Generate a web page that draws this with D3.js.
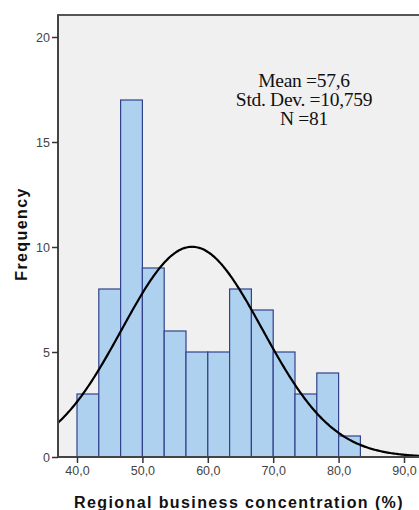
<!DOCTYPE html>
<html>
<head>
<meta charset="utf-8">
<script src="https://cdn.jsdelivr.net/npm/d3@7"></script>
<style>
  body { margin: 0; background: #fff; }
  svg { display: block; }
</style>
</head>
<body>
<svg id="chart"></svg>
<script>
// bins of 3.33 units starting at 40
const binStart = 40;
const binWidth = 10 / 3;
const counts = [3, 8, 17, 9, 6, 5, 5, 8, 7, 5, 3, 4, 1];
const xTicks = [40, 50, 60, 70, 80, 90];
const yTicks = [0, 5, 10, 15, 20];
const stats = { mean: 57.6, sd: 10.759, n: 81 };
const statLines = ["Mean =57,6", "Std. Dev. =10,759", "N =81"];

const width = 419, height = 510;
const plot = { left: 58, top: 15, right: 430, bottom: 457 };

const svg = d3.select("#chart")
    .attr("width", width)
    .attr("height", height);

const x = d3.scaleLinear().domain([40, 90]).range([77, 404]);
const y = d3.scaleLinear().domain([0, 20]).range([457, 37]);

// plot background
svg.append("rect")
    .attr("x", plot.left)
    .attr("y", plot.top)
    .attr("width", plot.right - plot.left)
    .attr("height", plot.bottom - plot.top)
    .attr("fill", "#f0f0f0")
    .attr("stroke", "#555")
    .attr("stroke-width", 2);

const bins = counts.map((c, i) => ({
    x0: binStart + i * binWidth,
    x1: binStart + (i + 1) * binWidth,
    count: c
}));

svg.append("g")
  .selectAll("rect")
  .data(bins)
  .join("rect")
    .attr("x", d => x(d.x0))
    .attr("y", d => y(d.count))
    .attr("width", d => x(d.x1) - x(d.x0))
    .attr("height", d => y(0) - y(d.count))
    .attr("fill", "#aed1ef")
    .attr("stroke", "#33418a")
    .attr("stroke-width", 1.2);

// normal curve scaled to counts
const scale = stats.n * binWidth / (stats.sd * Math.sqrt(2 * Math.PI));
const xs = d3.range(x.invert(plot.left), x.invert(plot.right), 0.2);
const line = d3.line()
    .x(d => x(d))
    .y(d => y(scale * Math.exp(-0.5 * Math.pow((d - stats.mean) / stats.sd, 2))))
    .curve(d3.curveBasis);

svg.append("path")
    .datum(xs)
    .attr("d", line)
    .attr("fill", "none")
    .attr("stroke", "#000")
    .attr("stroke-width", 2.2);

// axes lines drawn on top
svg.append("line")
    .attr("x1", plot.left).attr("x2", plot.right)
    .attr("y1", plot.bottom).attr("y2", plot.bottom)
    .attr("stroke", "#444").attr("stroke-width", 2);
svg.append("line")
    .attr("x1", plot.left).attr("x2", plot.left)
    .attr("y1", plot.top).attr("y2", plot.bottom)
    .attr("stroke", "#444").attr("stroke-width", 2);

const xAxis = svg.append("g")
    .attr("transform", `translate(0,${plot.bottom})`)
    .call(d3.axisBottom(x).tickValues(xTicks).tickSize(6).tickPadding(3)
        .tickFormat(d => d3.format(".1f")(d).replace(".", ",")));
xAxis.select(".domain").remove();

const yAxis = svg.append("g")
    .attr("transform", `translate(${plot.left},0)`)
    .call(d3.axisLeft(y).tickValues(yTicks).tickSize(6).tickPadding(2));
yAxis.select(".domain").remove();

svg.selectAll(".tick line").attr("stroke", "#333").attr("stroke-width", 1.5);
svg.selectAll(".tick text")
    .attr("fill", "#444")
    .style("font-family", "Arial, 'Liberation Sans', sans-serif")
    .style("font-size", "12.5px");

svg.append("text")
    .attr("transform", "translate(27,234) rotate(-90)")
    .attr("text-anchor", "middle")
    .style("font-family", "Arial, 'Liberation Sans', sans-serif")
    .style("font-size", "16px")
    .style("font-weight", "bold")
    .style("letter-spacing", "1.4px")
    .attr("fill", "#111")
    .text("Frequency");

svg.append("text")
    .attr("x", 239)
    .attr("y", 508)
    .attr("text-anchor", "middle")
    .style("font-family", "Arial, 'Liberation Sans', sans-serif")
    .style("font-size", "16px")
    .style("font-weight", "bold")
    .style("letter-spacing", "1.4px")
    .attr("fill", "#111")
    .text("Regional business concentration (%)");

svg.append("g")
  .selectAll("text")
  .data(statLines)
  .join("text")
    .attr("x", 304)
    .attr("y", (d, i) => 87 + i * 19)
    .attr("text-anchor", "middle")
    .style("font-family", "'Liberation Serif', 'Times New Roman', serif")
    .style("font-size", "19.5px")
    .style("letter-spacing", "-0.3px")
    .attr("fill", "#111")
    .text(d => d);
</script>
</body>
</html>
